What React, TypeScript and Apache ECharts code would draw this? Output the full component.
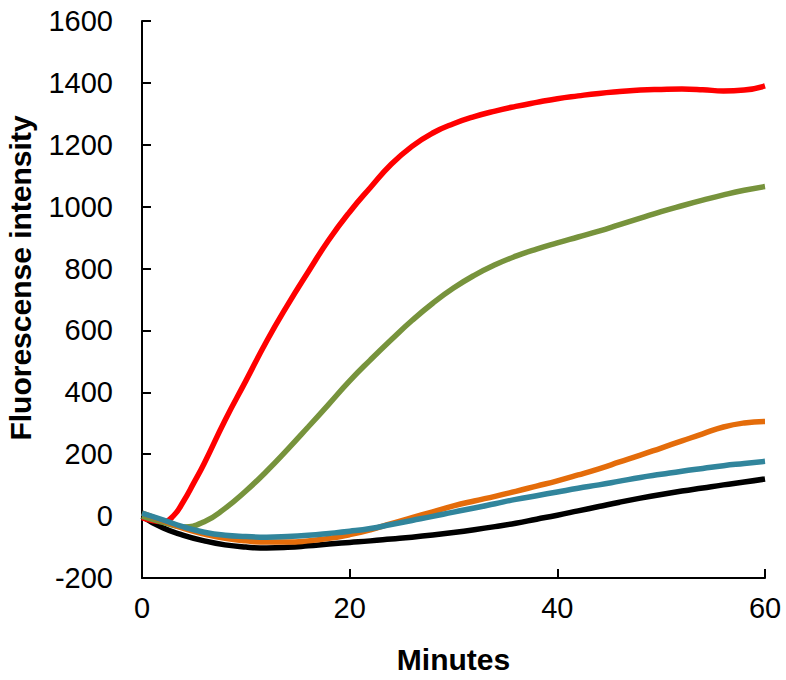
import React, { useEffect, useRef } from "react";
import * as echarts from "echarts";

const redMinutes = [0, 1, 2, 3, 4, 5, 6, 8, 10, 12, 14, 16, 18, 20, 22, 24, 26, 28, 30, 32, 34, 36, 38, 40, 42, 44, 46, 48, 50, 52, 54, 56, 58, 60];
const redValues = [-5, -14, -18, 0, 48, 108, 171, 310, 437, 565, 681, 789, 893, 983, 1062, 1137, 1195, 1238, 1268, 1291, 1309, 1324, 1337, 1349, 1358, 1366, 1372, 1377, 1379, 1380, 1378, 1374, 1377, 1390];

const minutes = [0, 2, 4, 6, 8, 10, 12, 14, 16, 18, 20, 22, 24, 26, 28, 30, 32, 34, 36, 38, 40, 42, 44, 46, 48, 50, 52, 54, 56, 58, 60];
const greenValues = [0, -20, -35, -18, 25, 81, 145, 215, 288, 362, 437, 505, 570, 632, 688, 737, 778, 812, 840, 863, 883, 902, 921, 942, 963, 984, 1003, 1021, 1038, 1053, 1065];
const orangeValues = [10, -15, -40, -58, -72, -80, -84, -84, -80, -72, -60, -44, -24, -5, 14, 33, 49, 64, 80, 97, 114, 133, 153, 175, 197, 220, 243, 266, 288, 301, 306];
const tealValues = [10, -12, -35, -52, -62, -66, -68, -66, -62, -56, -49, -40, -27, -14, -1, 13, 26, 40, 54, 66, 78, 90, 101, 113, 125, 135, 145, 154, 163, 170, 177];
const blackValues = [0, -38, -62, -80, -93, -100, -103, -101, -96, -90, -85, -80, -74, -68, -61, -53, -44, -34, -23, -10, 3, 17, 31, 45, 58, 70, 81, 91, 101, 110, 120];

const seriesDefs = [
  { name: "black", color: "#000000", x: minutes, values: blackValues },
  { name: "red", color: "#FF0000", x: redMinutes, values: redValues },
  { name: "green", color: "#77933C", x: minutes, values: greenValues },
  { name: "orange", color: "#E46C0A", x: minutes, values: orangeValues },
  { name: "teal", color: "#31859C", x: minutes, values: tealValues },
];

const FONT = "'Liberation Sans', Arial, sans-serif";

export default function App() {
  const ref = useRef<HTMLDivElement>(null);
  useEffect(() => {
    document.body.style.margin = "0";
    const chart = echarts.init(ref.current!, null, { renderer: "svg" });
    chart.setOption({
      animation: false,
      backgroundColor: "#ffffff",
      grid: { left: 142, right: 21, top: 21, bottom: 102, containLabel: false },
      xAxis: {
        type: "value",
        min: 0,
        max: 60,
        interval: 20,
        name: "Minutes",
        nameLocation: "middle",
        nameGap: 66,
        nameTextStyle: { fontFamily: FONT, fontSize: 30, fontWeight: "bold", color: "#000" },
        axisLine: { show: true, onZero: false, lineStyle: { color: "#000", width: 2 } },
        axisTick: { show: true, inside: true, length: 9, lineStyle: { color: "#000", width: 2 } },
        axisLabel: { fontFamily: FONT, fontSize: 29, color: "#000", margin: 15, formatter: (v: number) => String(v) },
        splitLine: { show: false },
      },
      yAxis: {
        type: "value",
        min: -200,
        max: 1600,
        interval: 200,
        axisLine: { show: true, onZero: false, lineStyle: { color: "#000", width: 2 } },
        axisTick: { show: true, inside: true, length: 9, lineStyle: { color: "#000", width: 2 } },
        axisLabel: { fontFamily: FONT, fontSize: 29, color: "#000", margin: 29, formatter: (v: number) => String(v) },
        splitLine: { show: false },
      },
      graphic: [
        {
          type: "text",
          x: 20,
          y: 278,
          rotation: Math.PI / 2,
          style: {
            text: "Fluorescense intensity",
            font: `bold 30px ${FONT}`,
            fill: "#000",
            textAlign: "center",
            textVerticalAlign: "middle",
          },
        },
      ],
      series: seriesDefs.map((s) => ({
        name: s.name,
        type: "line",
        data: s.x.map((m, i) => [m, s.values[i]]),
        smooth: true,
        showSymbol: false,
        lineStyle: { color: s.color, width: 5.5 },
        itemStyle: { color: s.color },
      })),
    });
    return () => chart.dispose();
  }, []);
  return <div ref={ref} style={{ width: 786, height: 680 }} />;
}
